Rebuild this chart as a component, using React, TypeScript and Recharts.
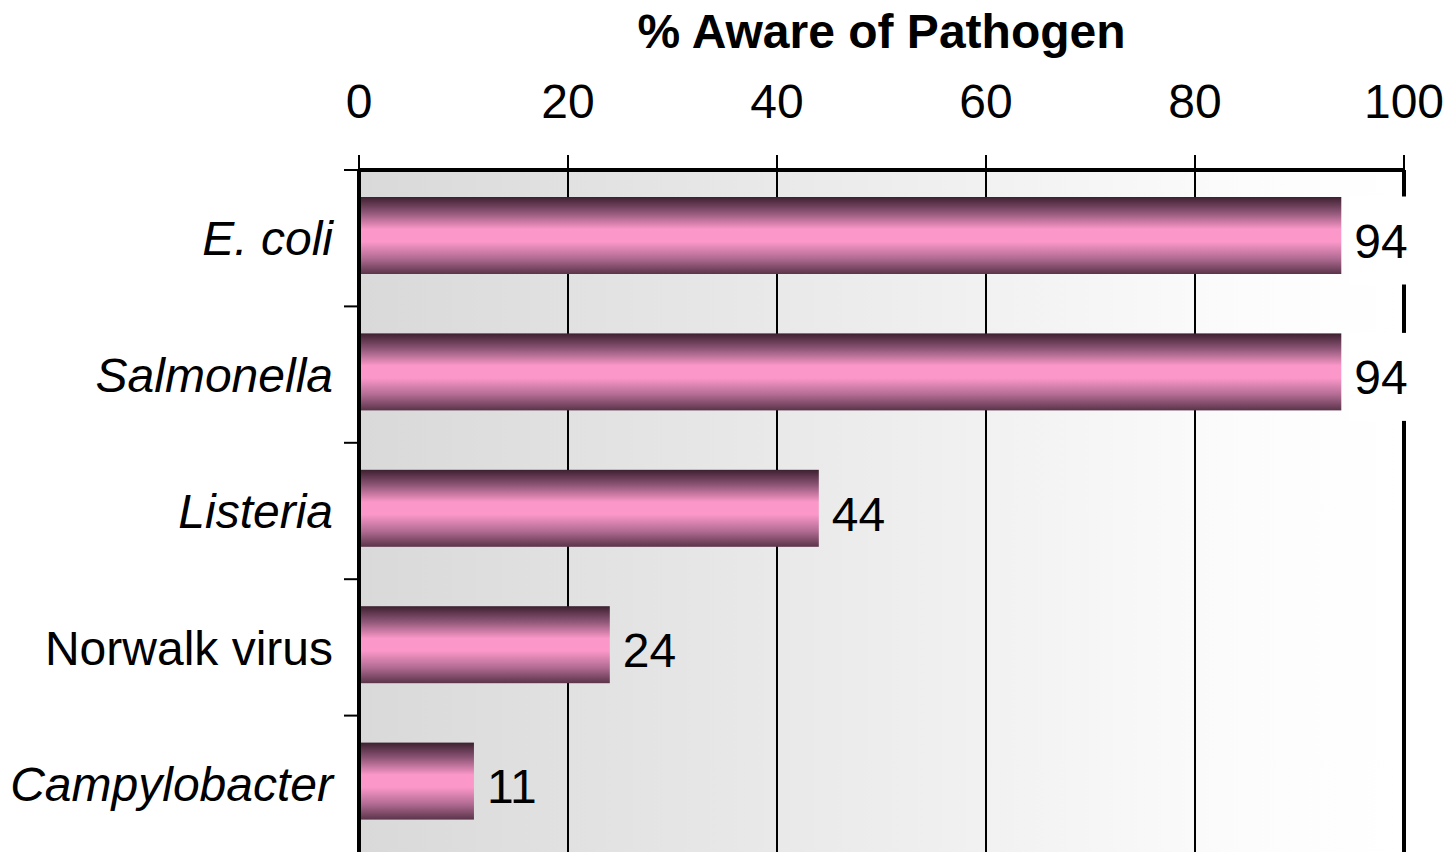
import React from 'react';
import { BarChart, Bar, XAxis, YAxis, CartesianGrid, LabelList, ReferenceLine } from 'recharts';

const categories = ['E. coli', 'Salmonella', 'Listeria', 'Norwalk virus', 'Campylobacter'];
const awareValues = [94, 94, 44, 24, 11];
const italicNames = [true, true, true, false, true];
const xTicks = [0, 20, 40, 60, 80, 100];
const titleText = '% Aware of Pathogen';

const data = categories.map((name, i) => ({ name, value: awareValues[i], italic: italicNames[i] }));

const W = 1446;
const H = 853;
const M = { top: 110, right: 42, bottom: 1, left: 0 };
const X_AXIS_H = 60;
const Y_AXIS_W = 359;
const PLOT_TOP = M.top + X_AXIS_H;
const PLOT_BOTTOM = H - M.bottom;
const PLOT_RIGHT = W - M.right;
const BAND = (PLOT_BOTTOM - PLOT_TOP) / categories.length;
const FONT = '"Liberation Sans", Arial, Helvetica, sans-serif';

const YTick = (props: any) => {
  const { x, y, payload, index } = props;
  const entry = data.find((d) => d.name === payload.value) || data[index];
  const lineX2 = x + 11 + 15;
  return (
    <g>
      <line x1={lineX2 - 15} x2={lineX2} y1={y - BAND / 2} y2={y - BAND / 2} stroke="#000" strokeWidth={2} />
      <text
        x={x}
        y={y}
        dy="0.36em"
        textAnchor="end"
        fontSize={48}
        fontFamily={FONT}
        fontStyle={entry && entry.italic ? 'italic' : 'normal'}
        fill="#000"
      >
        {payload.value}
      </text>
    </g>
  );
};

const BarShape = (props: any) => {
  const { x, y, width, height } = props;
  return <rect x={x - 2} y={y - 3} width={width + 2} height={height} fill="url(#barGrad)" />;
};

const ValueLabel = (props: any) => {
  const { x, y, width, height, value } = props;
  const tx = x + width + 13;
  const cy = y + height / 2 + 2;
  const needsBox = tx + 60 > PLOT_RIGHT - 6;
  return (
    <g>
      {needsBox && <rect x={tx - 5} y={cy - 44} width={70} height={88} fill="#ffffff" />}
      <text x={tx} y={cy} dy="0.36em" fontSize={48} fontFamily={FONT} fill="#000" textAnchor="start">
        {value}
      </text>
    </g>
  );
};

export default function App() {
  return (
    <div style={{ position: 'absolute', left: 0, top: 0, width: W, height: H, background: '#fff' }}>
      <div
        style={{
          position: 'absolute',
          left: Y_AXIS_W,
          width: PLOT_RIGHT - Y_AXIS_W,
          top: 8,
          textAlign: 'center',
          fontFamily: FONT,
          fontWeight: 'bold',
          fontSize: 48,
          lineHeight: '48px',
          color: '#000',
          whiteSpace: 'nowrap',
        }}
      >
        {titleText}
      </div>
      <BarChart width={W} height={H} data={data} layout="vertical" margin={M} barSize={77}>
        <defs>
          <linearGradient id="bgGrad" x1="0" y1="0" x2="1" y2="0">
            <stop offset="0%" stopColor="#d9d9d9" />
            <stop offset="50%" stopColor="#ededed" />
            <stop offset="85%" stopColor="#fcfcfc" />
            <stop offset="100%" stopColor="#ffffff" />
          </linearGradient>
          <linearGradient id="barGrad" x1="0" y1="0" x2="0" y2="1">
            <stop offset="0%" stopColor="#3d2030" />
            <stop offset="20%" stopColor="#8e5677" />
            <stop offset="42%" stopColor="#fb98c9" />
            <stop offset="58%" stopColor="#fb98c9" />
            <stop offset="80%" stopColor="#b06b92" />
            <stop offset="100%" stopColor="#5a3449" />
          </linearGradient>
        </defs>
        <CartesianGrid horizontal={false} vertical stroke="#000" strokeWidth={2} fill="url(#bgGrad)" fillOpacity={1} />
        <XAxis
          type="number"
          orientation="top"
          domain={[0, 100]}
          ticks={xTicks}
          interval={0}
          height={X_AXIS_H}
          axisLine={{ stroke: '#000', strokeWidth: 4 }}
          tickLine={{ stroke: '#000', strokeWidth: 2 }}
          tickSize={15}
          tickMargin={37}
          tick={{ fontSize: 48, fill: '#000', fontFamily: FONT }}
          allowDataOverflow
        />
        <YAxis
          type="category"
          dataKey="name"
          width={Y_AXIS_W}
          axisLine={{ stroke: '#000', strokeWidth: 4 }}
          tickLine={false}
          tickSize={15}
          tickMargin={11}
          tick={<YTick />}
          interval={0}
        />
        <ReferenceLine x={100} stroke="#000" strokeWidth={4} />
        <Bar dataKey="value" isAnimationActive={false} shape={<BarShape />}>
          <LabelList dataKey="value" content={<ValueLabel />} />
        </Bar>
      </BarChart>
    </div>
  );
}
